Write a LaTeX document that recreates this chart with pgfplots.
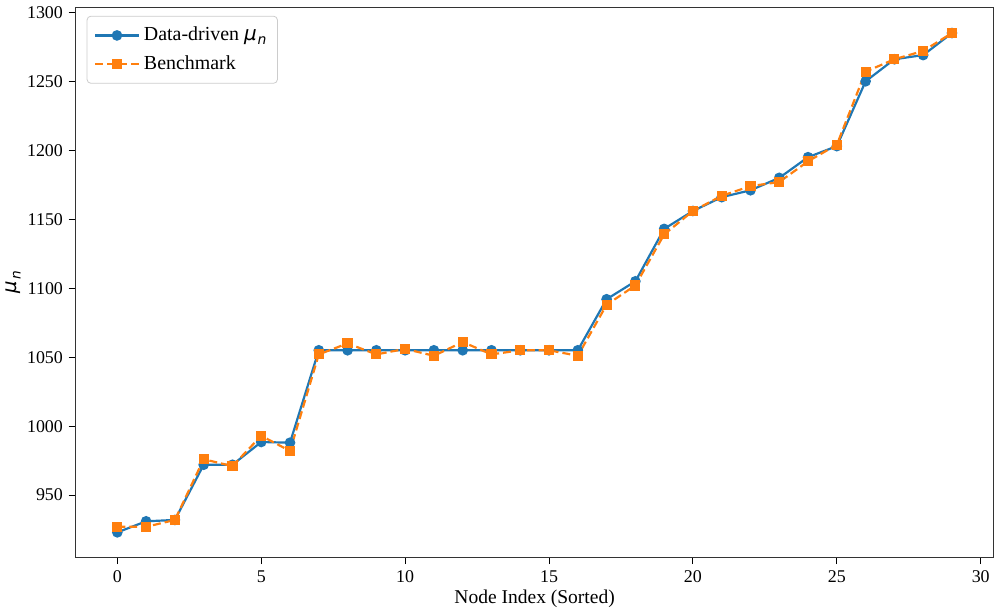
\documentclass[border=0pt]{standalone}
\usepackage{pgfplots}
\pgfplotsset{compat=1.18}
\usepackage{fontspec}
\setmainfont{Liberation Serif}
\newfontfamily\dejavu{DejaVu Sans}
\definecolor{mblue}{HTML}{1F77B4}
\definecolor{morange}{HTML}{FF7F0E}
\newcommand{\mun}{{\dejavu\itshape μ\kern0.05em\raisebox{-0.35ex}{\fontsize{0.7em}{1em}\selectfont n}}}
\begin{document}
\fontsize{9.5}{11}\selectfont
\begin{tikzpicture}
\begin{axis}[
  scale only axis,
  width=461pt, height=276pt,
  xmin=-1.45, xmax=30.45, ymin=905, ymax=1303.5,
  xtick={0,5,...,30}, ytick={950,1000,...,1300},
  tick align=outside, tick pos=left,
  major tick length=3.5pt,
  every tick/.style={black, line width=0.5pt},
  axis line style={black!80, line width=0.6pt},
  /pgf/number format/assume math mode=true,
  /pgf/number format/1000 sep={},
  ticklabel style={font=\fontsize{9}{11}\selectfont},
  yticklabel style={xshift=0.5pt},
  xlabel={Node Index (Sorted)},
  ylabel={\mun},
  label style={font=\fontsize{9.8}{11}\selectfont},
  xlabel style={yshift=3pt},
  ylabel style={yshift=-3.5pt},
  legend cell align=left,
  legend style={draw=black!20, rounded corners=2pt, inner sep=3.5pt,
    font=\fontsize{10}{12}\selectfont, row sep=2pt, at={(0.012,0.985)}, anchor=north west},
  legend image code/.code={\draw[#1] (0pt,0pt) -- (11pt,0pt) -- (22pt,0pt); \draw[#1, solid] plot coordinates {(11pt,0pt)};},
]
\addplot[mblue, line width=1.1pt, mark=*, mark size=2.1pt, mark options={solid}] coordinates {
(0,923) (1,931) (2,932) (3,972) (4,972) (5,988.5) (6,988) (7,1055) (8,1055) (9,1055)
(10,1055) (11,1055) (12,1055) (13,1055) (14,1055) (15,1055) (16,1055) (17,1092) (18,1105) (19,1143)
(20,1156) (21,1166) (22,1171) (23,1180) (24,1195) (25,1203) (26,1250) (27,1266) (28,1269) (29,1285)
};
\addlegendentry{Data-driven \mun}
\addplot[morange, line width=1.1pt, dashed, dash pattern=on 4pt off 2pt, mark=square*, mark size=2.0pt, mark options={solid}] coordinates {
(0,927) (1,927) (2,932) (3,976) (4,971) (5,993) (6,982) (7,1052) (8,1060) (9,1052)
(10,1056) (11,1051) (12,1061) (13,1052) (14,1055) (15,1055) (16,1051) (17,1088) (18,1102) (19,1139)
(20,1156) (21,1167) (22,1174) (23,1177) (24,1192) (25,1204) (26,1257) (27,1266) (28,1272) (29,1285)
};
\addlegendentry{Benchmark}
\end{axis}
\end{tikzpicture}
\end{document}
